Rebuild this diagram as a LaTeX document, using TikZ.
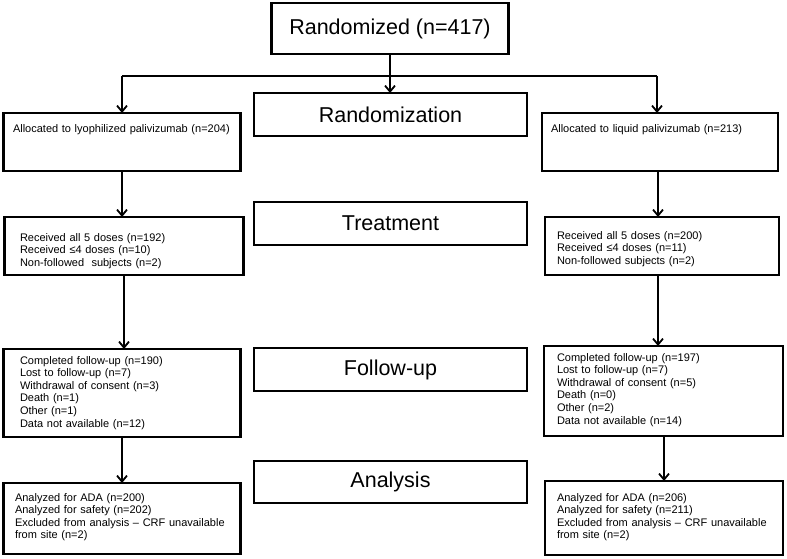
\documentclass[tikz,border=0pt]{standalone}
\usepackage{fontspec}
\setmainfont{Liberation Sans}
\usetikzlibrary{arrows.meta}
\begin{document}
\begin{tikzpicture}[x=1pt,y=-1pt,
  box/.style={draw, line width=2.5pt, inner sep=0pt, outer sep=0pt},
  bigbox/.style={box, line width=2.8pt, font=\fontsize{21.5}{24}\selectfont},
  lbl/.style={box, line width=2.6pt, minimum width=273pt, minimum height=43pt, font=\fontsize{21.5}{24}\selectfont},
  txt/.style={anchor=base west, inner sep=0pt, outer sep=0pt, align=left, text width=230pt, font=\fontsize{11}{12.6}\selectfont},
  arr/.style={line width=1.8pt, -{Straight Barb[length=6pt,width=10pt,line width=1.8pt]}},
  ln/.style={line width=1.8pt}]
\useasboundingbox (0,0) rectangle (787,559);
\fill[white] (0,0) rectangle (787,559);

% top
\node[bigbox, minimum width=237pt, minimum height=51pt] (top) at (390,28.5) {Randomized (n=417)};

% phase labels
\node[lbl] (randlbl) at (390.5,114.5) {Randomization};
\node[lbl] (treatlbl) at (390.5,223.5) {Treatment};
\node[lbl] (fulbl) at (390.5,369.5) {Follow-up};
\node[lbl, minimum height=42pt] (anlbl) at (390.5,482) {Analysis};

% left column boxes
\node[box, minimum width=237pt, minimum height=58pt] (allocL) at (122,142) {};
\node[box, minimum width=239pt, minimum height=58pt] (treatL) at (124,246) {};
\node[box, minimum width=237pt, minimum height=88pt] (fuL) at (122,393) {};
\node[box, minimum width=237pt, minimum height=71pt] (anL) at (122,518.5) {};

% right column boxes
\node[box, minimum width=236pt, minimum height=58pt] (allocR) at (660,142) {};
\node[box, minimum width=234pt, minimum height=58pt] (treatR) at (662,246) {};
\node[box, minimum width=239pt, minimum height=90pt] (fuR) at (663.5,391) {};
\node[box, minimum width=238pt, minimum height=74pt] (anR) at (664,518) {};

% texts
\node[txt] (tAllocL) at (13,132.5) {Allocated to lyophilized palivizumab (n=204)};
\node[txt] (tAllocR) at (551,132.5) {Allocated to liquid palivizumab (n=213)};
\node[txt] (tTreatL) at (20,241) {Received all 5 doses (n=192)\\Received ≤4 doses (n=10)\\Non-followed~ subjects (n=2)};
\node[txt] (tTreatR) at (557,239) {Received all 5 doses (n=200)\\Received ≤4 doses (n=11)\\Non-followed subjects (n=2)};
\node[txt] (tFuL) at (20,364) {Completed follow-up (n=190)\\Lost to follow-up (n=7)\\Withdrawal of consent (n=3)\\Death (n=1)\\Other (n=1)\\Data not available (n=12)};
\node[txt] (tFuR) at (557,361) {Completed follow-up (n=197)\\Lost to follow-up (n=7)\\Withdrawal of consent (n=5)\\Death (n=0)\\Other (n=2)\\Data not available (n=14)};
\node[txt] (tAnL) at (15,501) {Analyzed for ADA (n=200)\\Analyzed for safety (n=202)\\Excluded from analysis – CRF unavailable\\from site (n=2)};
\node[txt] (tAnR) at (557,501) {Analyzed for ADA (n=206)\\Analyzed for safety (n=211)\\Excluded from analysis – CRF unavailable\\from site (n=2)};

% connectors
\coordinate (split) at (390,76);
\draw[arr] (top.south) -- (top.south |- randlbl.north);
\draw[ln] (split -| allocL.north) -- (split);
\draw[ln] (split) -- ([xshift=-3pt]split -| allocR.north);
\draw[arr] (split -| allocL.north) -- (allocL.north);
\draw[arr] ([xshift=-3pt]split -| allocR.north) -- ([xshift=-3pt]allocR.north);

\draw[arr] (allocL.south) -- (allocL.south |- treatL.north);
\draw[arr] ([xshift=-2pt]allocR.south) -- ([xshift=-2pt]allocR.south |- treatR.north);

\draw[arr] (treatL.south) -- (treatL.south |- fuL.north);
\draw[arr] ([xshift=-4pt]treatR.south) -- ([xshift=-4pt]treatR.south |- fuR.north);

\draw[arr] (fuL.south) -- (fuL.south |- anL.north);
\draw[arr] ([xshift=0.5pt]fuR.south) -- ([xshift=0.5pt]fuR.south |- anR.north);
\end{tikzpicture}
\end{document}
